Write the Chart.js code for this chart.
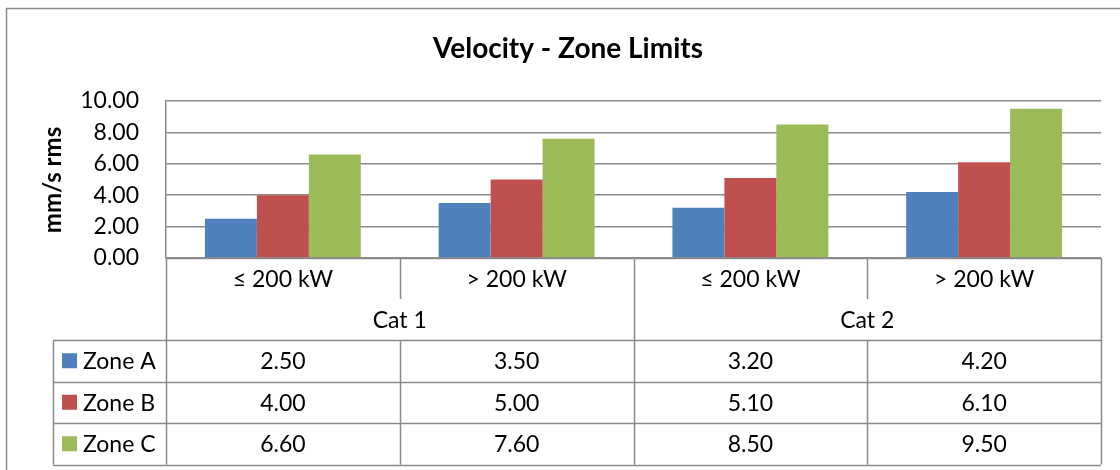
<!DOCTYPE html>
<html>
<head>
<meta charset="utf-8">
<script src="https://cdn.jsdelivr.net/npm/chart.js@4"></script>
<style>
  html, body { margin: 0; padding: 0; background: #fff; }
  #wrap { width: 1120px; height: 470px; position: relative; }
</style>
</head>
<body>
<div id="wrap"><canvas id="chart" width="1120" height="470"></canvas></div>
<script>
// data
const subLabels = ['≤ 200 kW', '> 200 kW', '≤ 200 kW', '> 200 kW'];
const groupLabels = ['Cat 1', 'Cat 2'];
const zoneNames = ['Zone A', 'Zone B', 'Zone C'];
const zoneA = [2.5, 3.5, 3.2, 4.2];
const zoneB = [4.0, 5.0, 5.1, 6.1];
const zoneC = [6.6, 7.6, 8.5, 9.5];
const zoneColors = ['#4F81BD', '#C0504D', '#9BBB59'];
const yTicks = [0, 2, 4, 6, 8, 10];

const FONT = 'Lato, "Open Sans", sans-serif';
const LINE = '#8a8a8a';

// draws title, axis title, outer frame and the data table under the plot
const tablePlugin = {
  id: 'dataTable',
  afterDraw(chart) {
    const ctx = chart.ctx;
    const x = chart.scales.x;
    const area = chart.chartArea;
    const n = subLabels.length;
    const step = (area.right - area.left) / n;
    const edge = i => x.getPixelForValue(i) - step / 2;

    const rowSub = [area.bottom, area.bottom + 41];
    const rowGroup = [area.bottom + 41, area.bottom + 82];
    const rowH = 41.5;
    const dataTop = rowGroup[1];
    const legendLeft = 53;
    const tableBottom = dataTop + rowH * zoneNames.length;

    ctx.save();
    // outer frame of the chart
    ctx.strokeStyle = LINE;
    ctx.lineWidth = 1.5;
    ctx.beginPath();
    ctx.moveTo(6.5, 475);
    ctx.lineTo(6.5, 8.5);
    ctx.lineTo(1125, 8.5);
    ctx.stroke();

    // title
    ctx.fillStyle = '#000';
    ctx.font = 'bold 28px ' + FONT;
    ctx.textAlign = 'center';
    ctx.textBaseline = 'middle';
    ctx.fillText('Velocity - Zone Limits', 568, 49);

    // y axis title
    ctx.save();
    ctx.translate(53, 180);
    ctx.rotate(-Math.PI / 2);
    ctx.font = 'bold 24px ' + FONT;
    ctx.fillText('mm/s rms', 0, 0);
    ctx.restore();

    // table grid
    ctx.strokeStyle = LINE;
    ctx.lineWidth = 1.5;
    ctx.beginPath();
    // vertical lines
    for (let i = 0; i <= n; i++) {
      const px = Math.round(edge(i)) + 0.5;
      const full = (i === 0 || i === n || i === n / 2);
      ctx.moveTo(px, rowSub[0]);
      if (full) {
        ctx.lineTo(px, tableBottom);
      } else {
        ctx.lineTo(px, rowSub[1]);
        ctx.moveTo(px, dataTop);
        ctx.lineTo(px, tableBottom);
      }
    }
    ctx.moveTo(legendLeft + 0.5, dataTop);
    ctx.lineTo(legendLeft + 0.5, tableBottom);
    // horizontal lines
    ctx.moveTo(area.left, area.bottom + 0.5);
    ctx.lineTo(area.right, area.bottom + 0.5);
    for (let r = 0; r <= zoneNames.length; r++) {
      const py = Math.round(dataTop + r * rowH) + 0.5;
      ctx.moveTo(legendLeft, py);
      ctx.lineTo(area.right, py);
    }
    ctx.stroke();

    // category texts
    ctx.fillStyle = '#000';
    ctx.font = '23px ' + FONT;
    ctx.textAlign = 'center';
    ctx.textBaseline = 'middle';
    subLabels.forEach((lab, i) => {
      ctx.fillText(lab, x.getPixelForValue(i), (rowSub[0] + rowSub[1]) / 2 + 1);
    });
    groupLabels.forEach((lab, g) => {
      const cx = (edge(g * 2) + edge(g * 2 + 2)) / 2;
      ctx.fillText(lab, cx, (rowGroup[0] + rowGroup[1]) / 2 + 1);
    });

    // data rows with legend keys
    chart.data.datasets.forEach((ds, r) => {
      const cy = dataTop + r * rowH + rowH / 2;
      ctx.fillStyle = ds.backgroundColor;
      ctx.fillRect(62, cy - 7.5, 15, 15);
      ctx.fillStyle = '#000';
      ctx.textAlign = 'left';
      ctx.fillText(ds.label, 83, cy + 1);
      ctx.textAlign = 'center';
      ds.data.forEach((v, i) => {
        ctx.fillText(v.toFixed(2), x.getPixelForValue(i), cy + 1);
      });
    });
    ctx.restore();
  }
};

const seriesValues = [zoneA, zoneB, zoneC];

new Chart(document.getElementById('chart'), {
  type: 'bar',
  data: {
    labels: subLabels,
    datasets: zoneNames.map((name, i) => ({
      label: name,
      data: seriesValues[i],
      backgroundColor: zoneColors[i],
      borderWidth: 0,
      categoryPercentage: 0.667,
      barPercentage: 1.0
    }))
  },
  options: {
    responsive: false,
    animation: false,
    layout: { padding: { top: 101, right: 19, bottom: 212, left: 0 } },
    plugins: {
      legend: { display: false },
      tooltip: { enabled: false }
    },
    scales: {
      x: { display: false },
      y: {
        min: 0,
        max: 10,
        afterBuildTicks: scale => { scale.ticks = yTicks.map(v => ({ value: v })); },
        afterFit: scale => { scale.width = 166; },
        grid: { color: LINE, lineWidth: 1.5, drawTicks: false },
        border: { color: LINE, width: 1.5 },
        ticks: {
          padding: 27,
          color: '#000',
          font: { family: FONT, size: 23 },
          callback: v => v.toFixed(2)
        }
      }
    }
  },
  plugins: [tablePlugin]
});
</script>
</body>
</html>
